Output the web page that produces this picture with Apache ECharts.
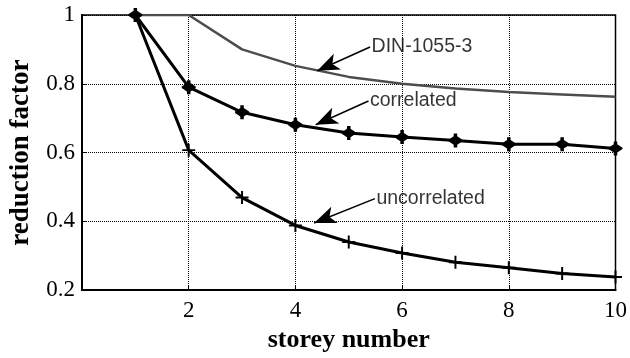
<!DOCTYPE html>
<html>
<head>
<meta charset="utf-8">
<script src="https://cdn.jsdelivr.net/npm/echarts@6/dist/echarts.min.js"></script>
<style>
html,body{margin:0;padding:0;background:#fff;}
#chart{width:630px;height:358px;}
</style>
</head>
<body>
<div id="chart"></div>
<script>
// ---- data ----
var storeys = [1, 2, 3, 4, 5, 6, 7, 8, 9, 10];
var dinValues = [1, 1, 0.9, 0.852, 0.82, 0.80, 0.786, 0.776, 0.769, 0.762];
var correlatedValues = [1, 0.79, 0.717, 0.681, 0.657, 0.645, 0.635, 0.624, 0.624, 0.612];
var uncorrelatedValues = [1, 0.607, 0.469, 0.388, 0.34, 0.308, 0.281, 0.265, 0.248, 0.238];
var xTicks = [2, 4, 6, 8, 10];
var yTicks = [0.2, 0.4, 0.6, 0.8, 1];
var annotLabels = ['DIN-1055-3', 'correlated', 'uncorrelated'];
var annotTips = [[4.41, 0.838], [4.38, 0.681], [4.35, 0.395]];
var annotTails = [[5.40, 0.907], [5.37, 0.750], [5.49, 0.466]];

function pairs(xs, ys) { return xs.map(function (x, i) { return [x, ys[i]]; }); }

var plusPath = 'path://M8.5,0H11.5V8.5H20V11.5H11.5V20H8.5V11.5H0V8.5H8.5Z';
var starPath = 'path://M8.5,0H11.5V4L16,9V11L11.5,16V20H8.5V16L4,11V9L8.5,4Z';

var chart = echarts.init(document.getElementById('chart'), null, {renderer: 'canvas'});
var serif = '"Liberation Serif","Times New Roman",serif';
var sans = '"Liberation Sans",Arial,sans-serif';

var option = {
  animation: false,
  backgroundColor: '#fff',
  grid: {left: 80, right: 9, top: 15, bottom: 63, show: true, borderColor: '#000', borderWidth: 1.5, backgroundColor: 'transparent'},
  xAxis: {
    type: 'value', min: 0, max: 10, interval: 2,
    name: 'storey number', nameLocation: 'middle', nameGap: 31,
    nameTextStyle: {fontFamily: serif, fontWeight: 'bold', fontSize: 26, color: '#000'},
    axisLine: {show: true, onZero: false, lineStyle: {color: '#000', width: 2}},
    axisTick: {show: true, inside: true, length: 5, lineStyle: {color: '#000'}},
    axisLabel: {fontFamily: serif, fontSize: 23, color: '#000', margin: 9,
      formatter: function (v) { return xTicks.indexOf(v) >= 0 ? String(v) : ''; }},
    splitLine: {show: true, lineStyle: {color: '#000', type: [1, 1], width: 1}}
  },
  yAxis: {
    type: 'value', min: 0.2, max: 1, interval: 0.2,
    name: 'reduction factor', nameLocation: 'middle', nameGap: 47,
    nameTextStyle: {fontFamily: serif, fontWeight: 'bold', fontSize: 27, color: '#000'},
    axisLine: {show: true, onZero: false, lineStyle: {color: '#000', width: 2}},
    axisTick: {show: true, inside: true, length: 5, lineStyle: {color: '#000'}},
    axisLabel: {fontFamily: serif, fontSize: 23, color: '#000', margin: 7,
      formatter: function (v) {
        var r = Math.round(v * 10) / 10;
        for (var i = 0; i < yTicks.length; i++) { if (Math.abs(yTicks[i] - r) < 1e-6) return String(yTicks[i]); }
        return '';
      }},
    splitLine: {show: true, lineStyle: {color: '#000', type: [1, 1], width: 1}}
  },
  series: [
    {
      name: 'DIN-1055-3', type: 'line', data: pairs(storeys, dinValues),
      showSymbol: false, symbol: 'none',
      lineStyle: {color: '#4d4d4d', width: 2.5}, z: 3
    },
    {
      name: 'correlated', type: 'line', data: pairs(storeys, correlatedValues),
      symbol: starPath, symbolSize: [14, 14], showSymbol: true,
      itemStyle: {color: '#000'},
      lineStyle: {color: '#000', width: 3}, z: 4
    },
    {
      name: 'uncorrelated', type: 'line', data: pairs(storeys, uncorrelatedValues),
      symbol: plusPath, symbolSize: [13, 13], showSymbol: true,
      itemStyle: {color: '#000'},
      lineStyle: {color: '#000', width: 3}, z: 4
    },
    {
      name: 'annotations', type: 'scatter',
      data: annotTails.map(function (c, i) { return {value: c, name: annotLabels[i]}; }),
      symbolSize: 1, itemStyle: {color: 'rgba(0,0,0,0)'},
      label: {show: true, position: 'right', distance: 1, formatter: '{b}',
        fontFamily: sans, fontSize: 19.5, color: '#000'},
      markLine: {
        silent: true, animation: false,
        symbol: ['none', 'arrow'], symbolSize: [13, 22],
        lineStyle: {color: '#000', width: 1.5, type: 'solid'},
        label: {show: false},
        data: annotTails.map(function (c, i) { return [{coord: c}, {coord: annotTips[i]}]; })
      },
      z: 6
    }
  ]
};
chart.setOption(option);
</script>
</body>
</html>
